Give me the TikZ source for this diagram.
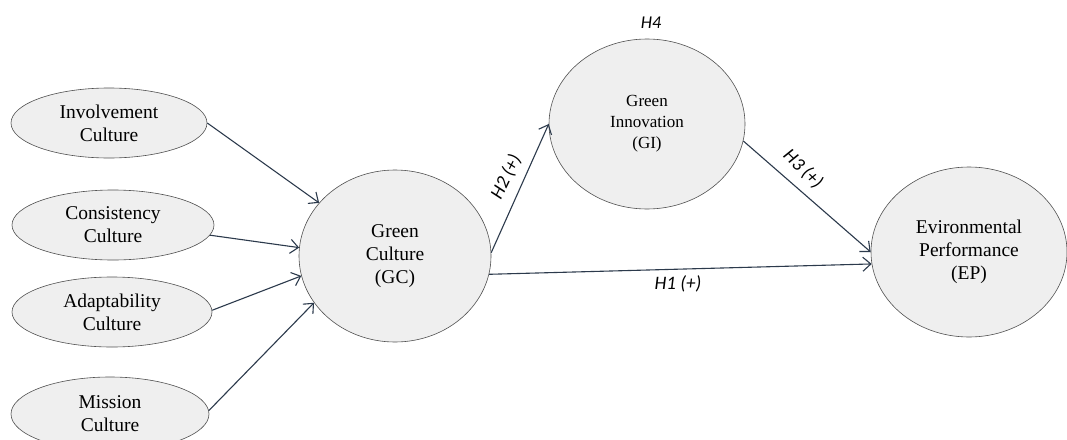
\documentclass[tikz,border=0pt]{standalone}
\usepackage{fontspec}
\setmainfont{Liberation Serif}
\newfontfamily\lblfont{Carlito}
\usetikzlibrary{arrows.meta,shapes.geometric}
\definecolor{nodefill}{RGB}{239,239,239}
\definecolor{nodeline}{RGB}{80,80,80}
\definecolor{arrowcol}{RGB}{44,58,76}
\tikzset{
  latent/.style={ellipse, draw=nodeline, line width=0.6pt, fill=nodefill, inner sep=0pt, align=center,
    font=\fontsize{19.5}{23}\selectfont},
  path/.style={draw=arrowcol, line width=1.1pt, -{Straight Barb[length=8pt,width=14pt,line width=1.1pt]}},
  hlabel/.style={font=\lblfont\itshape\fontsize{19}{22}\selectfont, text=black, inner sep=0pt}
}
\begin{document}
\begin{tikzpicture}[x=1pt,y=-1pt]
\useasboundingbox[fill=white] (0,0) rectangle (1067,439);
\node[latent, minimum width=196pt, minimum height=70pt] (inv) at (109,123) {Involvement\\Culture};
\node[latent, minimum width=202pt, minimum height=70pt] (con) at (113,225) {Consistency\\Culture};
\node[latent, minimum width=200pt, minimum height=70pt] (ada) at (112,312) {Adaptability\\Culture};
\node[latent, minimum width=198pt, minimum height=74pt] (mis) at (110,414) {Mission\\Culture};
\node[latent, minimum width=192pt, minimum height=172pt] (gc) at (395,256) {Green\\Culture\\(GC)};
\node[latent, minimum width=196pt, minimum height=170pt, font=\fontsize{17}{21}\selectfont] (gi) at (647,124) {Green\\Innovation\\(GI)};
\node[latent, minimum width=196pt, minimum height=170pt] (ep) at (969,252) {Evironmental\\Performance\\(EP)};
\draw[path] (inv.east) -- (gc.145);
\draw[path] (con.-6) -- (gc.175);
\draw[path] (ada.1) -- (gc.-168);
\draw[path] (mis.2) -- (gc.-150);
\draw[path] (gc.2) -- (gi.180);
\draw[path] (gc.-11) -- (ep.-173);
\draw[path] (gi.-10) -- (ep.180);
\node[hlabel, font=\lblfont\itshape\fontsize{18}{21}\selectfont] (h4) at (651,23) {H4};
\node[hlabel, rotate=64] (h2) at (506,177) {H2 (+)};
\node[hlabel, rotate=-44] (h3) at (803,169) {H3 (+)};
\node[hlabel] (h1) at (678,284) {H1 (+)};
\end{tikzpicture}
\end{document}
